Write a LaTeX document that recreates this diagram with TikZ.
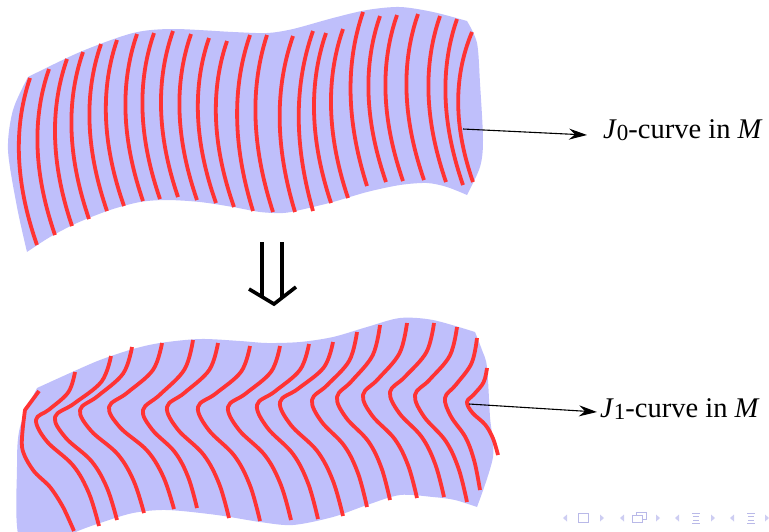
\documentclass[tikz,border=0pt]{standalone}
\usepackage{fontspec}
\setmainfont{Liberation Serif}
\usetikzlibrary{arrows.meta,calc}
\definecolor{bandblue}{RGB}{191,191,251}
\definecolor{curvered}{RGB}{255,51,51}
\definecolor{navfill}{RGB}{205,205,242}
\definecolor{navline}{RGB}{185,185,232}
\begin{document}
\begin{tikzpicture}[x=1pt,y=-1pt,
  band/.style={fill=bandblue,draw=none},
  redline/.style={draw=curvered,line width=3.8pt,line join=round},
  pointer/.style={draw=black,line width=1.1pt,-{Stealth[length=18pt,width=11pt,inset=6pt]}},
  lbl/.style={font=\fontsize{28.5}{33}\selectfont,inner sep=0pt,anchor=base west},
  bigarrow/.style={draw=black,line width=3.6pt},
  navtri/.style={fill=navfill,draw=none},
  navicon/.style={draw=navline,line width=1pt,fill=none}]
\useasboundingbox (0,0) rectangle (769,531);

% ---------- top band ----------
\fill[band] plot[smooth] coordinates {(28,77) (80,52) (133,33) (173,29) (233,32) (267,33) (293,29) (333,18) (367,10) (400,7) (433,12) (467,21)}
 -- plot[smooth] coordinates {(467,21) (477,43) (480,83) (483,140) (480,167) (467,195)}
 -- plot[smooth] coordinates {(467,195) (447,187) (427,183) (400,185) (367,192) (333,202) (300,210) (283,213) (260,212) (233,207) (200,202) (167,200) (140,202) (110,210) (77,223) (50,237) (27,252)}
 -- plot[smooth] coordinates {(27,252) (17,207) (8,150) (13,110) (28,77)} -- cycle;

\foreach \tx/\ty/\bx/\by in {30/78/37/245, 49/69/55/235, 67/59/72/226, 83/52/89/219, 101/44/107/211, 117/40/124/206, 137/34/143/201, 154/33/160/199, 173/31/178/197, 191/34/197/200, 209/38/216/203, 227/41/234/207, 250/35/253/211, 267/35/273/212, 293/36/295/212, 313/31/313/211, 326/33/331/203, 343/29/348/198, 363/12/367/186, 380/16/386/182, 397/15/403/181, 418/14/424/180, 440/16/446/182, 457/19/463/185, 472/32/473/182}{
  \draw[redline] (\tx,\ty) .. controls ($(\tx,\ty)!0.33!(\bx,\by)+(-21,0)$) and ($(\tx,\ty)!0.67!(\bx,\by)+(-17,0)$) .. (\bx,\by);
}

% ---------- bottom band ----------
\fill[band] plot[smooth] coordinates {(37,388) (70,373) (100,360) (133,349) (160,343) (200,339) (240,341) (267,343) (300,342) (333,337) (367,327) (400,318) (433,320) (475,332)}
 -- plot[smooth] coordinates {(475,332) (482,350) (487,367) (490,417) (493,457) (477,507)}
 -- plot[smooth] coordinates {(477,507) (455,500) (433,497) (400,495) (367,505) (333,517) (293,525) (260,522) (217,515) (167,510) (133,513) (100,523) (78,531) (60,540)}
 -- plot[smooth] coordinates {(60,540) (20,540) (17,467) (20,427) (37,388)} -- cycle;

\draw[redline] (39,391) -- plot[smooth] coordinates {(25,410) (22,447) (33,470) (50,487) (63,507) (74,531)};
\foreach \tx/\ty/\px/\py/\bx/\by in {75/372/36/420/99/526, 111/356/55/417/117/520, 132/347/80/410/144/513, 162/343/109/407/174/509, 193/340/143/410/197/508, 218/343/167/407/229/518, 250/346/198/407/260/521, 280/346/228/407/291/520, 309/344/257/405/318/519, 333/342/280/402/343/516, 357/332/312/400/367/507, 380/325/337/397/390/500, 407/323/363/395/417/498, 434/323/390/392/444/497, 457/327/415/395/467/502, 477/338/445/398/480/490, 487/368/467/402/498/455}{
  \pgfmathsetmacro\qax{\px+0.83*(\tx-\px)}
  \pgfmathsetmacro\qay{\ty+0.42*(\py-\ty)}
  \pgfmathsetmacro\qbx{\px+0.34*(\tx-\px)}
  \pgfmathsetmacro\qby{\ty+0.78*(\py-\ty)}
  \pgfmathsetmacro\qcx{\px+0.17*(\bx-\px)}
  \pgfmathsetmacro\qcy{\py+0.20*(\by-\py)}
  \pgfmathsetmacro\qdx{\px+0.59*(\bx-\px)}
  \pgfmathsetmacro\qdy{\py+0.43*(\by-\py)}
  \pgfmathsetmacro\qex{\px+0.84*(\bx-\px)}
  \pgfmathsetmacro\qey{\py+0.69*(\by-\py)}
  \draw[redline] plot[smooth,tension=0.6] coordinates {(\tx,\ty) (\qax,\qay) (\qbx,\qby) (\px,\py) (\qcx,\qcy) (\qdx,\qdy) (\qex,\qey) (\bx,\by)};
}

% ---------- double arrow ----------
\draw[bigarrow] (262,242) -- (262,297);
\draw[bigarrow] (282,242) -- (282,297);
\draw[bigarrow,line join=miter] (249,289) -- (274,304) -- (296,287);

% ---------- labels ----------
\coordinate (s0) at (463,129);
\node[lbl] (l0) at (603,138) {\textit{J}\raisebox{-2pt}{\fontsize{23}{26}\selectfont 0}-curve in \textit{M}};
\draw[pointer] (s0) -- ([xshift=-16pt,yshift=3pt]l0.base west);

\coordinate (s1) at (469,404);
\node[lbl] (l1) at (600,417) {\textit{J}\raisebox{-2pt}{\fontsize{23}{26}\selectfont 1}-curve in \textit{M}};
\draw[pointer] (s1) -- ([xshift=-3pt,yshift=5pt]l1.base west);

% ---------- navigation symbols ----------
\foreach \lx/\rx in {565/602, 622/658, 677/713, 732/767}{
  \fill[navtri] (\lx-2,518) -- (\lx+2,514.5) -- (\lx+2,521.5) -- cycle;
  \fill[navtri] (\rx+2,518) -- (\rx-2,514.5) -- (\rx-2,521.5) -- cycle;
}
\draw[navicon] (578,513.5) rectangle (588,522.5);
\draw[navicon,fill=white] (636,512) rectangle (646,519);
\draw[navicon,fill=white] (632,515.5) rectangle (642,522.5);
\foreach \cx in {696,751}{
  \draw[navicon] (\cx-4,513) -- (\cx+4,513);
  \draw[navicon] (\cx-3,516.5) -- (\cx+3,516.5);
  \draw[navicon] (\cx-3,520) -- (\cx+3,520);
  \draw[navicon] (\cx-4,523.5) -- (\cx+4,523.5);
}
\end{tikzpicture}
\end{document}
